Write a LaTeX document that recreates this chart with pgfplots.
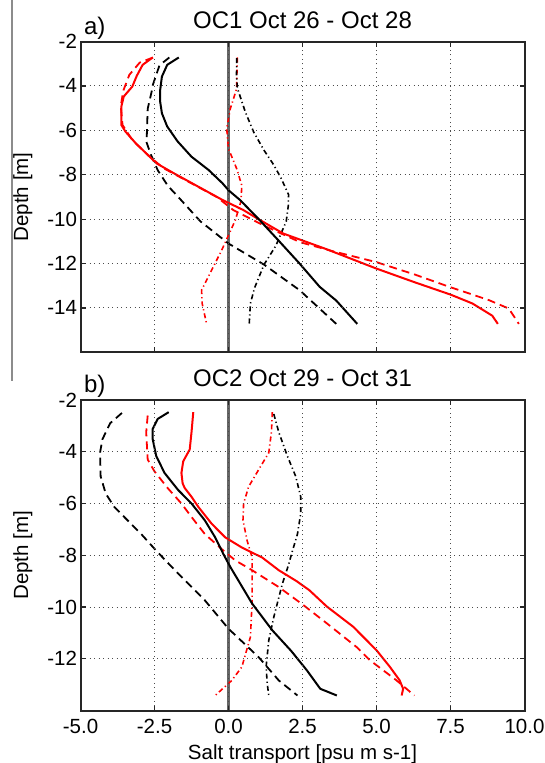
\documentclass[border=0pt]{standalone}
\usepackage{pgfplots}
\pgfplotsset{compat=1.18}
\usepackage{fontspec}
\setmainfont{Liberation Sans}

\pgfplotsset{
  myax/.style={
    scale only axis, width=444pt,
    xmin=-5, xmax=10,
    xtick={-5,-2.5,0,2.5,5,7.5,10},
    grid=major,
    major grid style={black!70, line width=0.9pt, dash pattern=on 1pt off 3.5pt},
    axis line style={solid, black!85, line width=2pt},
    tick style={solid, black!85, line width=1.2pt},
    tick align=inside, major tick length=5pt,
    ticklabel style={font=\fontsize{20.5}{24}\selectfont},
    label style={font=\fontsize{20.5}{24}\selectfont},
    title style={font=\fontsize{24}{28}\selectfont, at={(0.5,1)}, anchor=base, yshift=7.5pt},
    /pgf/number format/assume math mode=true,
    ylabel={Depth [m]},
    ylabel style={at={(axis description cs:-0.1182,0.5)}, anchor=base},
    clip mode=individual,
    axis on top,
  },
  bs/.style={black, line width=2pt},
  bd/.style={black, line width=1.8pt, dash pattern=on 8pt off 5pt},
  bdd/.style={black, line width=1.6pt, dash pattern=on 5pt off 3pt on 1.2pt off 3pt},
  rs/.style={red, line width=2pt},
  rd/.style={red, line width=1.8pt, dash pattern=on 8pt off 5pt},
  rdd/.style={red, line width=1.6pt, dash pattern=on 5pt off 3pt on 1.2pt off 3pt},
  zl/.style={black!60, line width=3.5pt},
}

\begin{document}
\begin{tikzpicture}
% Panel a
\begin{axis}[myax, height=310.8pt,
  at={(80.5pt,-41.5pt)}, anchor=north west,
  ymin=-16, ymax=-2, ytick={-14,-12,-10,-8,-6,-4,-2},
  xticklabels={},
  title={OC1 Oct 26 - Oct 28}]
\addplot[zl] coordinates {(0,-16) (0,-2)};
\addplot[rdd] coordinates {(0.3,-2.72) (0.27,-4.15) (0.06,-5.03) (-0.06,-5.93) (0,-6.83) (0.28,-7.74) (0.45,-8.49) (0.42,-9.2) (0.23,-10.05) (-0.23,-11.4) (-0.57,-12.3) (-0.91,-13.2) (-0.89,-13.8) (-0.74,-14.72)};
\addplot[bdd] coordinates {(0.28,-2.75) (0.27,-3.5) (0.3,-4.1) (0.57,-5.18) (0.85,-6.08) (1.2,-6.9) (1.5,-7.5) (1.76,-8.11) (2.03,-8.9) (2.02,-9.4) (1.95,-10.1) (1.6,-11.2) (1.2,-12.05) (0.88,-13.1) (0.74,-13.8) (0.70,-14.72)};
\addplot[bd] coordinates {(-2.0,-2.72) (-2.33,-3.07) (-2.39,-3.3) (-2.56,-3.97) (-2.6,-4.28) (-2.73,-5.03) (-2.76,-6.23) (-2.78,-6.5) (-2.62,-7.1) (-2.39,-7.8) (-2.05,-8.5) (-1.7,-9.0) (-0.95,-10.1) (0,-11.1) (1.2,-12.05) (2.4,-13.2) (3.64,-14.72)};
\addplot[rd] coordinates {(-2.55,-2.72) (-3.0,-2.95) (-3.35,-3.5) (-3.55,-4.2) (-3.64,-4.9) (-3.58,-5.76) (-3.25,-6.44) (-2.66,-7.19) (-2.19,-7.71) (-1.25,-8.39) (-0.4,-9.0) (0.17,-9.6) (1.29,-10.35) (2.42,-11.04) (3.53,-11.45) (5.0,-11.94) (6.3,-12.5) (7.5,-13.07) (8.8,-13.65) (9.47,-14.03) (9.81,-14.72)};
\addplot[rs] coordinates {(-2.56,-2.72) (-2.9,-3.05) (-3.1,-3.55) (-3.25,-4.03) (-3.54,-4.48) (-3.62,-4.93) (-3.62,-5.76) (-3.48,-6.06) (-3.13,-6.59) (-2.78,-7.04) (-2.43,-7.49) (-1.84,-7.94) (-1.02,-8.54) (-0.2,-9.14) (0.5,-9.59) (1.01,-10) (1.85,-10.65) (3.3,-11.35) (5.0,-12.23) (6.3,-12.85) (7.5,-13.4) (8.24,-13.8) (8.91,-14.35) (9.1,-14.72)};
\addplot[bs] coordinates {(-1.68,-2.72) (-2.07,-3.05) (-2.25,-3.58) (-2.31,-4.2) (-2.31,-4.7) (-2.25,-5.23) (-2.07,-5.83) (-1.72,-6.5) (-1.25,-7.19) (-0.95,-7.5) (-0.67,-7.79) (-0.2,-8.39) (0,-8.7) (0.39,-9.14) (1.02,-10) (1.68,-10.95) (2.4,-12) (3.08,-13.05) (3.64,-13.67) (4.35,-14.72)};
\node[anchor=base west, font=\fontsize{24}{28}\selectfont, yshift=7.5pt] at (rel axis cs:0,1) {a)};
\end{axis}
\draw[black!85, line width=2pt] (80.5pt,-41.5pt) -- (524.5pt,-41.5pt) -- (524.5pt,-352.3pt) -- (80.5pt,-352.3pt) -- cycle;
% Panel b
\begin{axis}[myax, height=310.5pt,
  at={(80.5pt,-400pt)}, anchor=north west,
  ymin=-14, ymax=-2, ytick={-12,-10,-8,-6,-4,-2},
  xticklabel style={/pgf/number format/fixed, /pgf/number format/fixed zerofill, /pgf/number format/precision=1, anchor=base, yshift=-22.5pt},
  xlabel={Salt transport [psu m s-1]},
  xlabel style={at={(axis description cs:0.5,0)}, anchor=base, yshift=-48.5pt},
  title={OC2 Oct 29 - Oct 31}]
\addplot[zl] coordinates {(0,-14) (0,-2)};
\addplot[rdd] coordinates {(1.48,-2.47) (1.45,-3.25) (1.36,-4.04) (1.02,-4.69) (0.68,-5.35) (0.51,-6.0) (0.49,-6.65) (0.63,-7.44) (0.8,-8.09) (0.8,-9.74) (0.74,-11.16) (0.45,-12.32) (0.11,-12.84) (-0.45,-13.42)};
\addplot[bdd] coordinates {(1.53,-2.54) (1.7,-3.25) (1.99,-4.17) (2.27,-4.95) (2.44,-5.74) (2.44,-6.39) (2.33,-7.18) (2.16,-7.83) (2.02,-8.4) (1.82,-9.1) (1.53,-10.39) (1.36,-11.29) (1.27,-12.32) (1.31,-12.97) (1.36,-13.42)};
\addplot[bd] coordinates {(-3.6,-2.5) (-4.0,-2.9) (-4.26,-3.52) (-4.34,-4.04) (-4.32,-4.95) (-4.15,-5.61) (-3.86,-6.13) (-3.41,-6.65) (-2.95,-7.18) (-2.42,-7.85) (-1.7,-8.71) (-0.8,-9.74) (0,-10.84) (1.02,-11.94) (1.7,-12.84) (2.33,-13.42)};
\addplot[rd] coordinates {(-2.73,-2.6) (-2.78,-3.25) (-2.73,-4.3) (-2.5,-4.76) (-2.05,-5.41) (-1.59,-6.0) (-1.25,-6.52) (-0.8,-7.18) (-0.23,-7.76) (0.23,-8.2) (0.8,-8.58) (1.7,-9.23) (2.5,-9.9) (3.32,-10.63) (4.33,-11.55) (4.78,-12.06) (5.67,-12.83) (6.28,-13.42)};
\addplot[rs] coordinates {(-1.19,-2.47) (-1.25,-3.25) (-1.31,-3.91) (-1.53,-4.37) (-1.59,-4.82) (-1.55,-5.22) (-1.48,-5.4) (-1.25,-5.74) (-1.02,-6.13) (-0.57,-6.78) (-0.11,-7.31) (0.45,-7.7) (1.14,-8.09) (1.7,-8.58) (2.3,-9.0) (2.73,-9.35) (3.32,-9.98) (4.21,-10.76) (5.0,-11.67) (5.45,-12.31) (5.78,-12.83) (5.9,-13.16) (5.85,-13.42)};
\addplot[bs] coordinates {(-2.02,-2.47) (-2.39,-2.73) (-2.56,-3.12) (-2.56,-3.52) (-2.44,-4.17) (-2.16,-4.82) (-1.7,-5.48) (-1.25,-6.0) (-0.8,-6.65) (-0.45,-7.31) (-0.17,-7.96) (0.06,-8.45) (0.8,-9.87) (1.48,-10.9) (2.12,-11.7) (2.65,-12.45) (3.1,-13.16) (3.66,-13.42)};
\node[anchor=base west, font=\fontsize{24}{28}\selectfont, yshift=7.5pt] at (rel axis cs:0,1) {b)};
\end{axis}
\draw[black!85, line width=2pt] (80.5pt,-400pt) -- (524.5pt,-400pt) -- (524.5pt,-710.5pt) -- (80.5pt,-710.5pt) -- cycle;
\draw[black!45, line width=1.2pt] (12pt,0pt) -- (12pt,-381pt);
\pgfresetboundingbox
\path (0pt,0pt) rectangle (544pt,-763pt);
\end{tikzpicture}
\end{document}
